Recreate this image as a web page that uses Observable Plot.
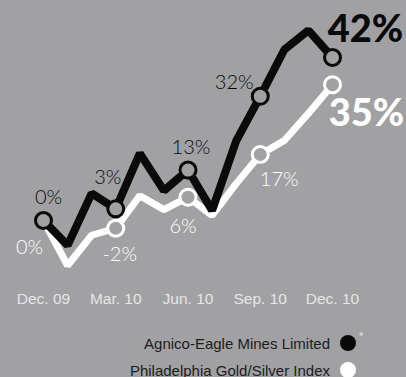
<!DOCTYPE html>
<html>
<head>
<meta charset="utf-8">
<script src="https://cdn.jsdelivr.net/npm/d3@7"></script>
<script src="https://cdn.jsdelivr.net/npm/@observablehq/plot@0.6"></script>
<style>
  html, body { margin: 0; padding: 0; }
  body { background: #a1a1a3; }
  #chart { position: relative; width: 406px; height: 377px; background: #a1a1a3; overflow: hidden; }
  #chart svg { display: block; }
  .legend-row {
    position: absolute; right: 50px; height: 16px;
    display: flex; align-items: center;
    font-family: "Liberation Sans", Arial, sans-serif; font-size: 15px; color: #1c1c1c;
    white-space: nowrap;
  }
  .legend-row .dot { width: 16px; height: 16px; border-radius: 50%; margin-left: 10px; }
  .legend-row .note { position: absolute; left: calc(100% + 3px); top: -5px; font-size: 11px; color: #e4e4e4; }
</style>
</head>
<body>
<div id="chart"></div>
<script>
// Monthly cumulative performance, Dec. 2009 to Dec. 2010 (percent change from Dec. 09)
const months = ["Dec. 09", "Jan. 10", "Feb. 10", "Mar. 10", "Apr. 10", "May 10", "Jun. 10",
                "Jul. 10", "Aug. 10", "Sep. 10", "Oct. 10", "Nov. 10", "Dec. 10"];
const agnico = [0, -6.4, 7, 3, 17.3, 7.7, 13, 2.6, 20.5, 32, 44, 49, 42];
const phlx   = [0, -11.6, -3.8, -2, 6.4, 2.8, 6, 1.3, 9.5, 17, 20.6, 27.6, 35];
const quarterIdx = [0, 3, 6, 9, 12];
const seriesNames = ["Agnico-Eagle Mines Limited", "Philadelphia Gold/Silver Index"];

const bg = "#a1a1a3";
const black = "#0a0a0a";
const white = "#ffffff";

const rows = (vals) => vals.map((v, i) => ({i, v}));
const agRows = rows(agnico);
const phRows = rows(phlx);
const agQ = agRows.filter(d => quarterIdx.includes(d.i));
const phQ = phRows.filter(d => quarterIdx.includes(d.i));

// label placement relative to each quarterly marker: [dx, dy]
const agOffsets = [[5, -23], [-8, -31], [3, -22], [-26, -14], [33, -28]];
const phOffsets = [[-14, 27], [4, 26], [-5, 29], [19, 25], [34, 29]];

const fmt = v => `${Math.round(v)}%`;

function labelMarks(data, offsets, color) {
  return data.map((d, k) => {
    const last = k === data.length - 1;
    return Plot.text([d], {
      x: "i", y: "v", text: r => fmt(r.v),
      dx: offsets[k][0], dy: offsets[k][1],
      fill: color,
      fontFamily: "Lato, sans-serif",
      fontWeight: last ? 900 : 300,
      fontSize: last ? 38 : 20
    });
  });
}

const plot = Plot.plot({
  width: 406,
  height: 320,
  marginTop: 0, marginLeft: 0, marginRight: 0, marginBottom: 35,
  style: { background: "transparent", overflow: "visible" },
  x: { domain: [0, 12], range: [43, 332] },
  y: { domain: [0, 42], range: [220, 57], axis: null },
  marks: [
    Plot.axisX({
      ticks: quarterIdx, tickFormat: i => months[i], tickSize: 0, tickPadding: 7,
      fontSize: 15.5, fontFamily: "Liberation Sans, Arial, sans-serif",
      fill: "#e6e6e6", label: null
    }),
    Plot.line(phRows, { x: "i", y: "v", stroke: white, strokeWidth: 7, strokeLinejoin: "miter" }),
    Plot.dot(phQ.filter(d => d.i !== 0), { x: "i", y: "v", r: 8, fill: bg, stroke: white, strokeWidth: 3 }),
    Plot.line(agRows, { x: "i", y: "v", stroke: black, strokeWidth: 8, strokeLinejoin: "miter" }),
    Plot.dot(agQ, { x: "i", y: "v", r: 8, fill: bg, stroke: black, strokeWidth: 3 }),
    ...labelMarks(agQ, agOffsets, black),
    ...labelMarks(phQ, phOffsets, white)
  ]
});

const chart = document.getElementById("chart");
chart.appendChild(plot);

// legend
const legend = [
  { name: seriesNames[0], color: black, top: 335, note: "*" },
  { name: seriesNames[1], color: white, top: 362, note: "" }
];
for (const item of legend) {
  const row = document.createElement("div");
  row.className = "legend-row";
  row.style.top = item.top + "px";
  const label = document.createElement("span");
  label.textContent = item.name;
  const dot = document.createElement("span");
  dot.className = "dot";
  dot.style.background = item.color;
  row.appendChild(label);
  row.appendChild(dot);
  if (item.note) {
    const note = document.createElement("span");
    note.className = "note";
    note.textContent = item.note;
    row.appendChild(note);
  }
  chart.appendChild(row);
}
</script>
</body>
</html>
